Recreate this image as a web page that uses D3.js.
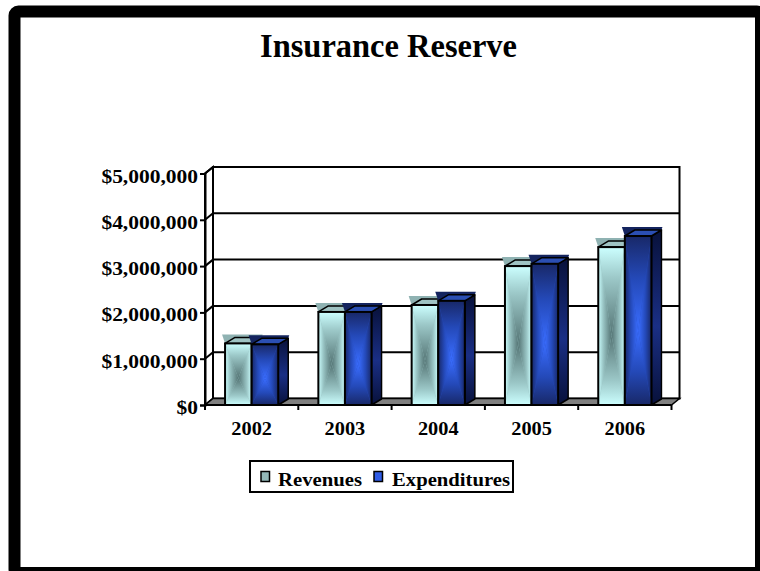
<!DOCTYPE html>
<html><head><meta charset="utf-8">
<script src="https://cdn.jsdelivr.net/npm/d3@7"></script>
<style>html,body{margin:0;padding:0;background:#fff;}svg{display:block;}</style>
</head><body>
<svg id="chart" width="760" height="571"></svg>
<script>
const years = ["2002", "2003", "2004", "2005", "2006"];
const revenues = [1330000, 2010000, 2160000, 3000000, 3410000];
const expenditures = [1310000, 2010000, 2250000, 3050000, 3650000];
const seriesNames = ["Revenues", "Expenditures"];
const yTickValues = [0, 1000000, 2000000, 3000000, 4000000, 5000000];
const titleText = "Insurance Reserve";

const svg = d3.select("#chart");
const FONT = "'Liberation Serif','Times New Roman',serif";
const defs = svg.append("defs");

// frame
svg.append("rect").attr("x", 14.5).attr("y", 11.5).attr("width", 746.5).attr("height", 561.5)
  .attr("rx", 4).attr("fill", "#fff").attr("stroke", "#000").attr("stroke-width", 12);

// title
svg.append("text").attr("x", 388.5).attr("y", 57).attr("text-anchor", "middle")
  .attr("font-family", FONT).attr("font-weight", "bold").attr("font-size", 33)
  .attr("textLength", 257).attr("lengthAdjust", "spacingAndGlyphs").text(titleText);

// scales
const DX = 8, DY = 6.5;
const yF = d3.scaleLinear().domain([0, 5000000]).range([405, 173.5]);
const yB = v => yF(v) - DY;
const x0 = d3.scaleBand().domain(years).range([205, 671.5]).paddingInner(0.43).paddingOuter(0.215);
const x1 = d3.scaleBand().domain(seriesNames).range([0, x0.bandwidth()]);
const step = x0.step();
const xLeft = 205, xRight = 671.5;

// left wall
svg.append("polygon")
  .attr("points", [[xLeft, yF(0)], [xLeft + DX, yB(0)], [xLeft + DX, yB(5000000)], [xLeft, yF(5000000)]].join(" "))
  .attr("fill", "#fff").attr("stroke", "#000").attr("stroke-width", 2);
// back wall
svg.append("rect").attr("x", xLeft + DX).attr("y", yB(5000000))
  .attr("width", xRight - xLeft).attr("height", yB(0) - yB(5000000))
  .attr("fill", "#fff").attr("stroke", "#000").attr("stroke-width", 2);
// gridlines
yTickValues.filter(v => v > 0).forEach(v => {
  svg.append("line").attr("x1", xLeft + DX).attr("x2", xRight + DX).attr("y1", yB(v)).attr("y2", yB(v))
    .attr("stroke", "#000").attr("stroke-width", 2);
  svg.append("line").attr("x1", xLeft).attr("x2", xLeft + DX).attr("y1", yF(v)).attr("y2", yB(v))
    .attr("stroke", "#000").attr("stroke-width", 2);
});
// floor
svg.append("polygon")
  .attr("points", [[xLeft, yF(0)], [xRight, yF(0)], [xRight + DX, yB(0)], [xLeft + DX, yB(0)]].join(" "))
  .attr("fill", "#808080").attr("stroke", "#000").attr("stroke-width", 1.5);

// y axis
const yAxis = d3.axisLeft(yF).tickValues(yTickValues).tickFormat(d3.format("$,")).tickSize(5).tickPadding(3);
const ya = svg.append("g").attr("transform", `translate(${xLeft},0)`).call(yAxis);
ya.select(".domain").attr("stroke", "#000").attr("stroke-width", 2);
ya.selectAll(".tick line").attr("stroke", "#000").attr("stroke-width", 2);
ya.selectAll(".tick text").attr("font-family", FONT).attr("font-weight", "bold").attr("font-size", 19)
  .attr("fill", "#000").attr("dy", "0.45em").attr("x", -7)
  .each(function() { const t = d3.select(this); t.attr("textLength", this.getComputedTextLength() * 1.13).attr("lengthAdjust", "spacingAndGlyphs"); });

// x axis
const xa = svg.append("g").attr("transform", `translate(0,${yF(0)})`);
d3.range(years.length + 1).forEach(i => {
  xa.append("line").attr("x1", xLeft + i * step).attr("x2", xLeft + i * step).attr("y1", 0).attr("y2", 5)
    .attr("stroke", "#000").attr("stroke-width", 2);
});
xa.append("line").attr("x1", xLeft).attr("x2", xRight).attr("y1", 0).attr("y2", 0).attr("stroke", "#000").attr("stroke-width", 2);
xa.selectAll("text.xl").data(years).join("text").attr("class", "xl")
  .attr("x", d => x0(d) + x0.bandwidth() / 2).attr("y", 30).attr("text-anchor", "middle")
  .attr("font-family", FONT).attr("font-weight", "bold").attr("font-size", 19)
  .each(function(d) { d3.select(this).text(d); d3.select(this).attr("textLength", this.getComputedTextLength() * 1.07).attr("lengthAdjust", "spacingAndGlyphs"); });

// gradients
function lin(id, x1_, y1_, x2_, y2_, stops) {
  const g = defs.append("linearGradient").attr("id", id)
    .attr("x1", x1_).attr("y1", y1_).attr("x2", x2_).attr("y2", y2_);
  stops.forEach(s => g.append("stop").attr("offset", s[0]).attr("stop-color", s[1]));
}
const palettes = {
  Revenues: { edge: "#ccffff", mid: "#9cc8c8", center: "#557575", top: "#9fc3c3", art: "#8fb2b2", side: ["#6f9090", "#9ec4c4"] },
  Expenditures: { edge: "#182868", mid: "#2449b8", center: "#3a6dff", top: "#2b4fb3", art: "#14245e", side: ["#08113a", "#1a2f85"] }
};
Object.entries(palettes).forEach(([k, p], i) => {
  const a = i === 0 ? 0.35 : 0.45;
  const st = [[0, p.edge], [a, p.mid], [1, p.center]];
  const rv = [[0, p.center], [1 - a, p.mid], [1, p.edge]];
  lin("gT" + i, 0, 0, 0, 1, st);
  lin("gB" + i, 0, 0, 0, 1, rv);
  lin("gL" + i, 0, 0, 1, 0, st);
  lin("gR" + i, 0, 0, 1, 0, rv);
  lin("gS" + i, 0, 0, 0, 1, [[0, p.side[0]], [0.55, p.side[1]], [1, p.side[0]]]);
});

const bdx = 10, bdy = 6;
const rows = years.map((y, i) => ({ year: y, vals: [revenues[i], expenditures[i]] }));
const bars = svg.append("g");
rows.forEach(r => {
  seriesNames.forEach((s, si) => {
    const v = r.vals[si];
    const p = palettes[s];
    const xa_ = x0(r.year) + x1(s), xb = xa_ + x1.bandwidth();
    const yt = yF(v), yb = yF(0);
    const cx = (xa_ + xb) / 2, cy = yt + (yb - yt) * 0.56;
    const g = bars.append("g");
    // side face
    g.append("polygon").attr("points", [[xb, yt], [xb + bdx, yt - bdy], [xb + bdx, yb - bdy], [xb, yb]].join(" "))
      .attr("fill", `url(#gS${si})`).attr("stroke", "#000").attr("stroke-width", 1.5).attr("stroke-linejoin", "round");
    // artifact above top
    g.append("polygon").attr("points", [[xa_ - 3, yt - 9], [xb + bdx + 1, yt - 9], [xb + bdx, yt - bdy], [xa_, yt]].join(" "))
      .attr("fill", p.art);
    // top face
    g.append("polygon").attr("points", [[xa_, yt], [xb, yt], [xb + bdx, yt - bdy], [xa_ + bdx, yt - bdy]].join(" "))
      .attr("fill", p.top).attr("stroke", "#000").attr("stroke-width", 1.5).attr("stroke-linejoin", "round");
    // front face: rectangular gradient via 4 triangles
    g.append("rect").attr("x", xa_).attr("y", yt).attr("width", xb - xa_).attr("height", yb - yt).attr("fill", p.mid);
    g.append("polygon").attr("points", [[xa_, yt], [xb, yt], [cx, cy]].join(" ")).attr("fill", `url(#gT${si})`);
    g.append("polygon").attr("points", [[xa_, yb], [xb, yb], [cx, cy]].join(" ")).attr("fill", `url(#gB${si})`);
    g.append("polygon").attr("points", [[xa_, yt], [xa_, yb], [cx, cy]].join(" ")).attr("fill", `url(#gL${si})`);
    g.append("polygon").attr("points", [[xb, yt], [xb, yb], [cx, cy]].join(" ")).attr("fill", `url(#gR${si})`);
    g.append("rect").attr("x", xa_).attr("y", yt).attr("width", xb - xa_).attr("height", yb - yt)
      .attr("fill", "none").attr("stroke", "#000").attr("stroke-width", 2);
  });
});

// legend
const lg = svg.append("g");
lg.append("rect").attr("x", 250).attr("y", 461).attr("width", 263).attr("height", 31)
  .attr("fill", "#fff").attr("stroke", "#000").attr("stroke-width", 2);
const legendItems = [
  { name: seriesNames[0], sx: 261, tx: 278, tl: 84, fill: "#93b8b8" },
  { name: seriesNames[1], sx: 374, tx: 392, tl: 118, fill: "#2f5ce6" }
];
legendItems.forEach(it => {
  lg.append("rect").attr("x", it.sx).attr("y", 471.5).attr("width", 8.5).attr("height", 10)
    .attr("fill", it.fill).attr("stroke", "#000").attr("stroke-width", 1.5);
  lg.append("text").attr("x", it.tx).attr("y", 486).attr("font-family", FONT).attr("font-weight", "bold")
    .attr("font-size", 19).attr("textLength", it.tl).attr("lengthAdjust", "spacingAndGlyphs").text(it.name);
});
</script>
</body></html>
